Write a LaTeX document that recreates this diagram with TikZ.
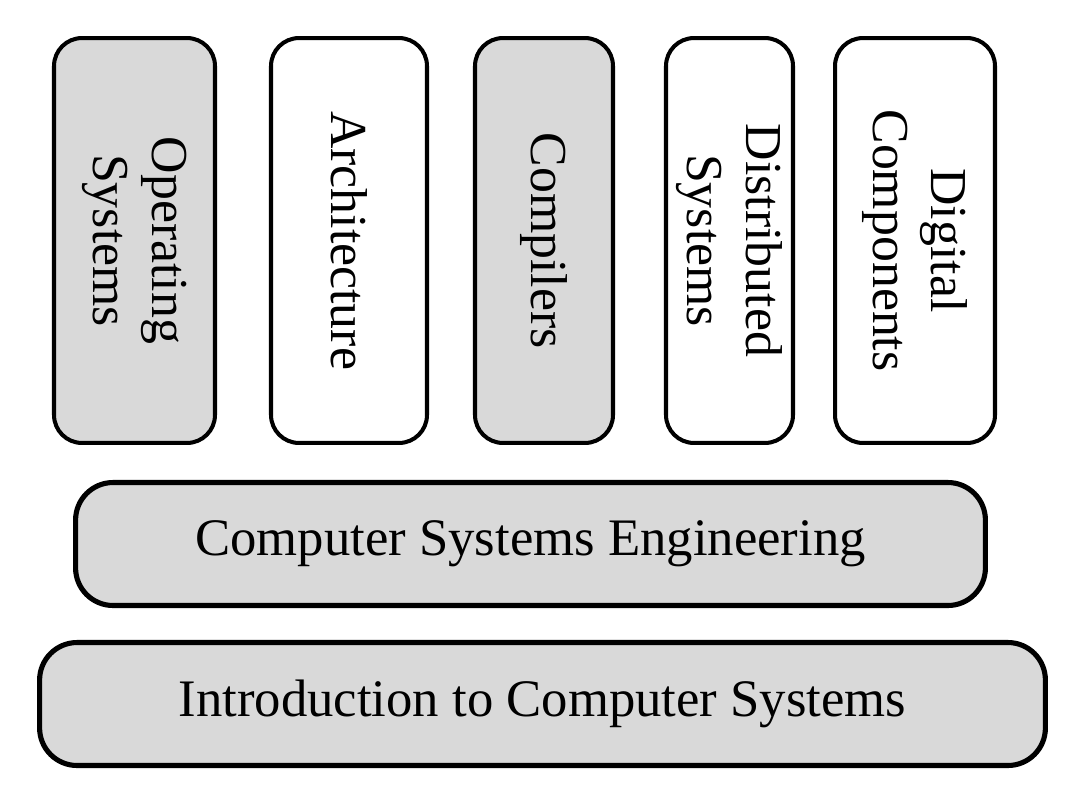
\documentclass[tikz,border=0pt]{standalone}
\usepackage{fontspec}
\setmainfont{Liberation Serif}
\begin{document}
\begin{tikzpicture}[x=0.02cm, y=-0.02cm,
		font=\fontsize{29.5}{33.5}\selectfont,
		course/.style={draw=black, line width=2.3pt, rounded corners=0.56cm,
			inner sep=0pt, outer sep=0pt, align=center, rotate=-90,
			minimum width=8.1cm},
		base/.style={draw=black, line width=2.9pt, rounded corners=0.75cm,
			fill=boxgray, inner sep=0pt, outer sep=0pt, minimum height=2.46cm,
			font=\fontsize{30}{34}\selectfont}]
	\definecolor{boxgray}{RGB}{217, 217, 217}
	\useasboundingbox (0,0) rectangle (1086,806);
	
	% 上层课程（竖排文字）
	\node[course, fill=boxgray, minimum height=3.22cm] (os) at (134.5,240.5) {Operating\\Systems};
	\node[course, fill=white, minimum height=3.12cm] (arch) at (349,240.5) {Architecture};
	\node[course, fill=boxgray, minimum height=2.76cm] (comp) at (544,240.5) {Compilers};
	\node[course, fill=white, minimum height=2.54cm] (dist) at (729.5,240.5) {Distributed\\Systems};
	\node[course, fill=white, minimum height=3.2cm] (digi) at (915,240.5) {Digital\\Components};
	
	% 底层基础课程
	\node[base, minimum width=18.2cm] (cse) at (530.5,544) {Computer Systems Engineering};
	\node[base, minimum width=20.12cm] (intro) at (542.5,704) {Introduction to Computer Systems};
\end{tikzpicture}
\end{document}
